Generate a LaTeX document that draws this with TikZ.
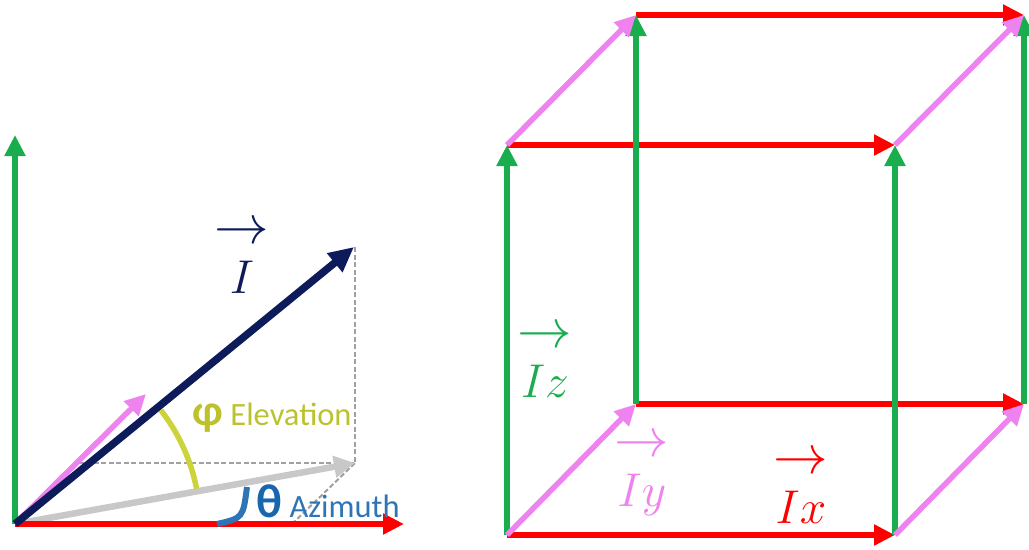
\IfFileExists{fix-cm.sty}{\RequirePackage{fix-cm}}{}
\documentclass[tikz,border=0pt]{standalone}
\usepackage{graphicx}
\usepackage{fontspec}
\newfontfamily\calibri{Carlito}
\usetikzlibrary{arrows.meta}
\definecolor{axRed}{HTML}{FF0000}
\definecolor{axGreen}{HTML}{19AD4E}
\definecolor{axPink}{HTML}{EE82EE}
\definecolor{vecNavy}{HTML}{0D1B5A}
\definecolor{projGray}{HTML}{C8C8C8}
\definecolor{dashGray}{HTML}{A0A0A0}
\definecolor{elevYel}{HTML}{BCC22E}
\definecolor{arcYel}{HTML}{CDD33A}
\definecolor{azBlue}{HTML}{2E75B6}
\definecolor{thetaBlue}{HTML}{1866AC}
\newcommand{\veclab}[1]{\begin{tabular}[b]{@{}c@{}}\scalebox{1.15}{$\rightarrow$}\\$#1$\end{tabular}}

\begin{document}
\begin{tikzpicture}[
  x=0.02cm, y=-0.02cm,
  ax/.style={draw=#1, line width=0.11cm, -{Triangle[length=0.42cm,width=0.4cm]}},
  vl/.style={text=#1, font=\fontsize{27}{28}\selectfont, inner sep=0pt, anchor=base},
  dsh/.style={draw=dashGray, line width=0.04cm, dash pattern=on 0.1cm off 0.05cm},
  ang/.style={font=\calibri\fontsize{18.5}{20}\selectfont, inner sep=0pt, anchor=base west},
]
\useasboundingbox (0,0) rectangle (1029,549);
% angles figure
\coordinate (O) at (15,524);
\coordinate (zTip) at (15,135);
\coordinate (xTip) at (404,524);
\coordinate (yTip) at (146,394);
\coordinate (ITip) at (354,247);
\coordinate (P) at (355,463);
\coordinate (Ptop) at (355,247);
\coordinate (Pleft) at (75,463);
\coordinate (Pfoot) at (292,524);
\draw[dsh] (Ptop) -- (P) -- (Pleft);
\draw[dsh] (Pfoot) -- (P);
\draw[projGray, line width=0.13cm, -{Triangle[length=0.42cm,width=0.42cm]}] (O) -- (P);
\draw[ax=axRed] (O) -- (xTip);
\draw[ax=axGreen] (O) -- (zTip);
\draw[ax=axPink] (O) -- (yTip);
\draw[vecNavy, line width=0.15cm, -{Triangle[length=0.5cm,width=0.46cm]}] (O) -- (ITip);
\draw[arcYel, line width=0.11cm] (O) ++(11:3.7cm) arc[start angle=11, end angle=38, radius=3.7cm];
\draw[azBlue, line width=0.12cm] (217,524) .. controls (243,518) .. (247,487);
\node[vl=vecNavy] (Ilab) at (242,293) {\veclab{I}};
\node[ang, text=elevYel] (elev) at (192,425) {{\fontsize{25}{26}\selectfont\bfseries φ} Elevation};
\node[ang, text=azBlue] (azim) at (256,517) {{\fontsize{27}{28}\selectfont\bfseries\color{thetaBlue}θ} Azimuth};
% cube
\coordinate (A) at (507,535);
\coordinate (B) at (895,535);
\coordinate (C) at (895,145);
\coordinate (D) at (507,145);
\coordinate (E) at (636,404);
\coordinate (F) at (1024,404);
\coordinate (G) at (1024,15);
\coordinate (H) at (636,15);
\draw[ax=axRed] (A) -- (B);
\draw[ax=axRed] (D) -- (C);
\draw[ax=axRed] (E) -- (F);
\draw[ax=axRed] (H) -- (G);
\draw[ax=axGreen] (A) -- (D);
\draw[ax=axGreen] (B) -- (C);
\draw[ax=axGreen] (E) -- (H);
\draw[ax=axGreen] (F) -- (G);
\draw[ax=axPink] (A) -- (E);
\draw[ax=axPink] (B) -- (F);
\draw[ax=axPink] (C) -- (G);
\draw[ax=axPink] (D) -- (H);
\node[vl=axGreen] (Izlab) at (545,397) {\veclab{Iz}};
\node[vl=axPink] (Iylab) at (642,506) {\veclab{Iy}};
\node[vl=axRed] (Ixlab) at (801,523) {\veclab{Ix}};
\end{tikzpicture}
\end{document}
